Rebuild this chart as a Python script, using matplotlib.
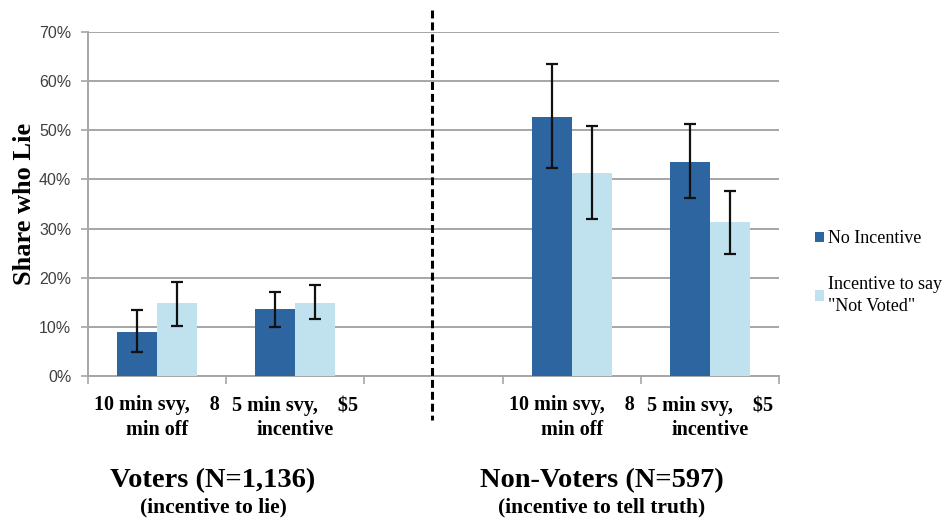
import numpy as np
import matplotlib
matplotlib.use("Agg")
import matplotlib.pyplot as plt
import matplotlib.transforms as mtransforms
from matplotlib.lines import Line2D
from matplotlib.ticker import FuncFormatter, FixedLocator

# survey arms: voters (left pair), spacer, non-voters (right pair)
categories = ["10 min svy,    8\nmin off", "5 min svy,    $5\nincentive", "",
              "10 min svy,    8\nmin off", "5 min svy,    $5\nincentive"]
series_names = ["No Incentive", "Incentive to say\n\"Not Voted\""]

# share who lie, percent
no_incentive = [8.9, 13.7, np.nan, 52.7, 43.5]
no_incentive_lo = [4.8, 10.0, np.nan, 42.4, 36.2]
no_incentive_hi = [13.4, 17.1, np.nan, 63.5, 51.3]

with_incentive = [14.8, 14.8, np.nan, 41.3, 31.4]
with_incentive_lo = [10.1, 11.5, np.nan, 31.9, 24.8]
with_incentive_hi = [19.2, 18.6, np.nan, 50.9, 37.7]

group_titles = ["Voters (N=1,136)", "Non-Voters (N=597)"]
group_notes = ["(incentive to lie)", "(incentive to tell truth)"]

DARK = "#2d65a0"
LIGHT = "#c0e2ee"
GRID = "#a6a6a6"
SERIF = "Liberation Serif"

fig = plt.figure(figsize=(9.46, 5.2), dpi=100)
ax = fig.add_axes([88 / 946, 1 - 376 / 520, (779 - 88) / 946, (376 - 32) / 520])

x = np.arange(len(categories)) + 0.5
w = 0.288


def err(vals, lo, hi):
    vals, lo, hi = map(np.asarray, (vals, lo, hi))
    return np.vstack([vals - lo, hi - vals])


ekw = dict(ecolor="#111111", elinewidth=1.6, capsize=4, capthick=1.6)
b1 = ax.bar(x - w / 2, no_incentive, w, color=DARK, yerr=err(no_incentive, no_incentive_lo, no_incentive_hi),
            error_kw=ekw, zorder=3, label=series_names[0])
b2 = ax.bar(x + w / 2, with_incentive, w, color=LIGHT, yerr=err(with_incentive, with_incentive_lo, with_incentive_hi),
            error_kw=ekw, zorder=3, label=series_names[1])

ax.set_xlim(0, len(categories))
ax.set_ylim(0, 70)
ax.set_yticks(np.arange(0, 71, 10))
ax.yaxis.set_major_formatter(FuncFormatter(lambda v, _: f"{v:.0f}%"))
ax.yaxis.grid(True, color=GRID, lw=1.4, zorder=0)
ax.set_axisbelow(True)

# category boundaries carry the ticks, labels sit in the middle
ax.xaxis.set_major_locator(FixedLocator(np.arange(len(categories) + 1)))
ax.xaxis.set_minor_locator(FixedLocator(x))
ax.set_xticklabels([""] * (len(categories) + 1))
ax.set_xticklabels(categories, minor=True, fontfamily=SERIF, fontweight="bold",
                   fontsize=14.5, linespacing=1.3)
ax.tick_params(axis="x", which="major", length=6, width=1.2, color=GRID)
ax.tick_params(axis="x", which="minor", length=0, pad=14)
ax.tick_params(axis="y", length=5, width=1.2, color=GRID, pad=7, labelsize=11.5,
               labelcolor="#404040")
for lab in ax.get_yticklabels():
    lab.set_fontfamily("Liberation Sans")

for side in ("top", "right"):
    ax.spines[side].set_visible(False)
for side in ("left", "bottom"):
    ax.spines[side].set_color(GRID)
    ax.spines[side].set_linewidth(1.4)

ax.set_ylabel("Share who Lie", fontfamily=SERIF, fontweight="bold", fontsize=19, labelpad=2)

# dashed divider between the two groups
trans = mtransforms.blended_transform_factory(ax.transData, fig.transFigure)
fig.add_artist(Line2D([2.49, 2.49], [1 - 10 / 520, 1 - 420 / 520], transform=trans,
                      color="black", lw=2.2, ls=(0, (2.6, 1.3))))

for cx, title, note in zip([213, 602], group_titles, group_notes):
    fig.text(cx / 946, 1 - 481 / 520, title, ha="center", va="center",
             fontfamily=SERIF, fontweight="bold", fontsize=20.5)
    fig.text(cx / 946, 1 - 507 / 520, note, ha="center", va="center",
             fontfamily=SERIF, fontweight="bold", fontsize=15.5)

leg = fig.legend(handles=[b1, b2], labels=series_names, loc="upper left",
                 bbox_to_anchor=(808 / 946, 1 - 223 / 520), frameon=False,
                 prop=dict(family=SERIF, size=13), handlelength=0.5, handleheight=0.5,
                 handletextpad=0.2, labelspacing=1.6, borderaxespad=0)
leg.get_texts()[1].set_linespacing(1.35)

fig.savefig("out.png", dpi=100, facecolor="white")
